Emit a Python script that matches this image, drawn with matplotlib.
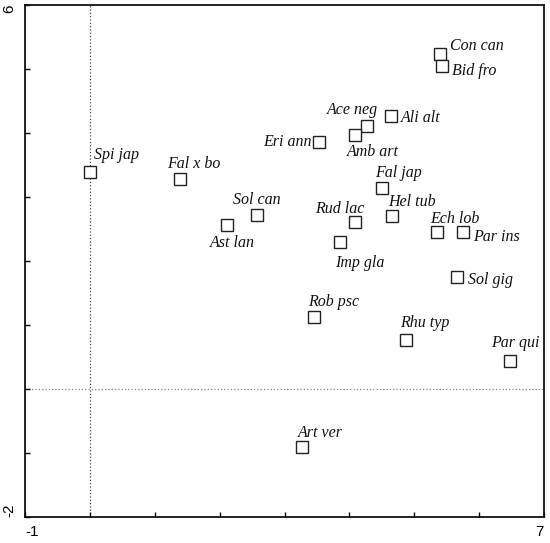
import matplotlib
matplotlib.use('Agg')
matplotlib.rcParams['axes.unicode_minus'] = False
import matplotlib.pyplot as plt
from matplotlib.ticker import MultipleLocator

# species scores (axis 1, axis 2)
names = ['Spi jap', 'Fal x bo', 'Ast lan', 'Sol can', 'Eri ann', 'Ace neg', 'Amb art',
         'Ali alt', 'Con can', 'Bid fro', 'Fal jap', 'Hel tub', 'Rud lac', 'Imp gla',
         'Ech lob', 'Par ins', 'Sol gig', 'Rob psc', 'Rhu typ', 'Par qui', 'Art ver']
ax1 = [0.00, 1.39, 2.11, 2.58, 3.53, 4.27, 4.09,
       4.64, 5.40, 5.43, 4.50, 4.66, 4.09, 3.86,
       5.35, 5.75, 5.66, 3.46, 4.87, 6.48, 3.27]
ax2 = [3.39, 3.28, 2.56, 2.72, 3.86, 4.11, 3.97,
       4.27, 5.23, 5.05, 3.14, 2.70, 2.61, 2.30,
       2.45, 2.45, 1.75, 1.13, 0.77, 0.44, -0.91]

# label placement (pixels from the marker, horizontal alignment)
offsets = {
    'Spi jap': (4, 17, 'left'), 'Fal x bo': (-13, 15, 'left'), 'Ast lan': (-17, -18, 'left'),
    'Sol can': (-24, 15, 'left'), 'Eri ann': (-7, 0, 'right'), 'Ace neg': (-40, 16, 'left'),
    'Amb art': (-8, -17, 'left'), 'Ali alt': (10, -2, 'left'), 'Con can': (10, 8, 'left'),
    'Bid fro': (10, -5, 'left'), 'Fal jap': (-7, 15, 'left'), 'Hel tub': (-4, 14, 'left'),
    'Rud lac': (-40, 13, 'left'), 'Imp gla': (-5, -21, 'left'), 'Ech lob': (-7, 13, 'left'),
    'Par ins': (10, -5, 'left'), 'Sol gig': (11, -3, 'left'), 'Rob psc': (-6, 15, 'left'),
    'Rhu typ': (-6, 17, 'left'), 'Par qui': (-19, 18, 'left'), 'Art ver': (-4, 14, 'left'),
}

fig = plt.figure(figsize=(5.5, 5.43), dpi=100)
ax = fig.add_axes([0.0455, 0.0479, 0.9436, 0.9429])

# dotted zero lines
ax.axvline(0, color='#444444', linestyle=':', linewidth=0.9, zorder=1)
ax.axhline(0, color='#888888', linestyle=':', linewidth=0.9, zorder=1)

ax.plot(ax1, ax2, linestyle='None', marker='s', markersize=8.2,
        markerfacecolor='white', markeredgecolor='#222222', markeredgewidth=1.0, zorder=3)

for n, x, y in zip(names, ax1, ax2):
    dx, dy, ha = offsets[n]
    ax.annotate(n, xy=(x, y), xytext=(dx, dy), textcoords='offset pixels',
                ha=ha, va='center', fontsize=11.5, style='italic',
                family='Liberation Serif', color='#111111')

#axes
ax.set_xlim(-1, 7)
ax.set_ylim(-2, 6)
ax.set_xticks([-1, 7])
ax.set_yticks([-2, 6])
ax.xaxis.set_minor_locator(MultipleLocator(1))
ax.yaxis.set_minor_locator(MultipleLocator(1))
ax.tick_params(which='both', direction='in', length=3.5, width=1.0, pad=6,
               labelsize=11, top=False, right=False)
ax.tick_params(axis='y', pad=6)

for lab in ax.get_xticklabels() + ax.get_yticklabels():
    lab.set_family('Liberation Sans')
xl = ax.get_xticklabels()
xl[0].set_ha('left')
xl[1].set_ha('right')
yl = ax.get_yticklabels()
for lab in yl:
    lab.set_rotation(90)
yl[0].set_va('bottom')
yl[1].set_va('top')

for s in ax.spines.values():
    s.set_linewidth(1.3)
    s.set_color('#111111')

fig.savefig('out.png', dpi=100)
